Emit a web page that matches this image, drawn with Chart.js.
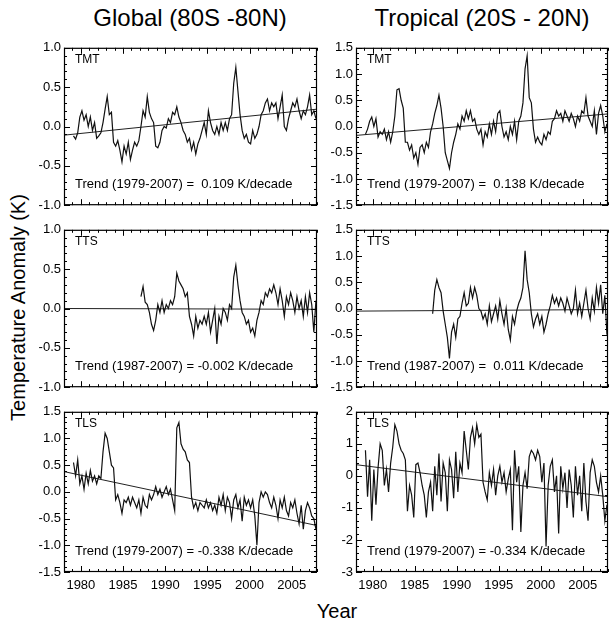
<!DOCTYPE html>
<html>
<head>
<meta charset="utf-8">
<script src="https://cdn.jsdelivr.net/npm/chart.js@4/dist/chart.umd.min.js"></script>
<style>
  body { margin: 0; background: #fff; width: 610px; height: 627px; position: relative; overflow: hidden;
         font-family: "Liberation Sans", Arial, Helvetica, sans-serif; color: #000; }
  canvas { position: absolute; }
  .txt { position: absolute; white-space: nowrap; }
</style>
</head>
<body>
<div class="txt" style="left:40px; width:300px; top:4px; font-size:24px; text-align:center;">Global (80S -80N)</div>
<div class="txt" style="left:332px; width:300px; top:4px; font-size:24px; text-align:center;">Tropical (20S - 20N)</div>
<div class="txt" style="left:-102px; top:296px; width:240px; font-size:20px; text-align:center; transform:rotate(-90deg);">Temperature Anomaly (K)</div>
<div class="txt" style="left:287px; width:100px; top:600px; font-size:20px; text-align:center;">Year</div>

<canvas id="c0"></canvas><canvas id="c1"></canvas>
<canvas id="c2"></canvas><canvas id="c3"></canvas>
<canvas id="c4"></canvas><canvas id="c5"></canvas>

<script>
// quarterly anomalies (K)
const step = 0.25;
const msuStart = 1979;
const ttsStart = 1987;

const globalTMT = [
  -0.12, -0.16, -0.08, 0.12,   0.20, 0.08, 0.15, 0.0,   0.12, -0.05, 0.05, -0.15,
  -0.12, -0.08, 0.05, 0.22,    0.38, 0.15, 0.18, -0.2,  -0.25, -0.18, -0.3, -0.45,
  -0.25, -0.35, -0.2, -0.42,   -0.3, -0.2, -0.25, -0.18, 0.0, 0.2, 0.12, 0.38,
  0.18, 0.1, 0.05, -0.25,      -0.27, -0.2, -0.05, 0.0, -0.02, 0.1, 0.05, 0.18,
  0.15, 0.25, 0.12, 0.05,      -0.05, -0.1, -0.2, -0.15, -0.3, -0.2, -0.35, -0.22,
  -0.15, -0.05, 0.05, -0.1,    0.2, 0.05, -0.05, -0.1,  0.0, -0.1, 0.05, -0.05,
  0.05, -0.05, 0.1, 0.15,      0.55, 0.75, 0.45, 0.15,  -0.05, -0.15, -0.1, -0.2,
  -0.22, -0.05, -0.15, -0.1,   0.0, 0.15, 0.2, 0.3,     0.35, 0.2, 0.3, 0.25,
  0.3, 0.1, 0.25, 0.4,         0.0, -0.05, 0.1, 0.2,    0.3, 0.25, 0.35, 0.2,
  0.1, 0.2, 0.15, 0.25,        0.4, 0.15, 0.2, 0.1
];
const globalTTS = [
  0.15, 0.28, 0.08, 0.05,      -0.05, -0.2, -0.28, -0.15, 0.05, -0.05, 0.1, -0.05,
  0.05, 0.0, 0.1, 0.05,        0.15, 0.45, 0.35, 0.3,   0.25, 0.15, 0.2, -0.1,
  -0.2, -0.35, -0.1, -0.25,    -0.15, -0.2, -0.1, -0.2, -0.05, -0.3, -0.15, 0.0,
  -0.45, -0.1, -0.2, 0.0,      -0.05, -0.15, 0.05, 0.0, 0.4, 0.55, 0.3, 0.1,
  -0.05, -0.1, -0.2, -0.15,    -0.3, -0.25, -0.35, -0.15, -0.05, 0.1, 0.05, 0.2,
  0.15, 0.25, 0.2, 0.3,        0.2, 0.05, 0.25, 0.1,    -0.1, 0.15, 0.05, 0.2,
  0.1, -0.05, 0.15, 0.0,       0.1, -0.1, 0.15, -0.05,  0.2, 0.05, -0.3, 0.1
];
const globalTLS = [
  0.55, 0.3, 0.6, 0.15,        0.3, 0.05, 0.35, 0.15,   0.4, 0.2, 0.3, 0.15,
  0.3, 0.25, 0.75, 1.1,        1.0, 0.75, 0.5, 0.45,    -0.15, -0.05, -0.2, -0.4,
  -0.15, -0.2, -0.1, -0.25,    -0.1, -0.2, -0.3, -0.15, -0.4, -0.1, -0.25, -0.3,
  -0.05, -0.15, -0.05, 0.1,    -0.05, 0.05, -0.1, 0.0,  0.1, -0.05, 0.05, -0.15,
  -0.35, 1.2, 1.3, 0.9,        0.8, 0.75, 0.6, 0.55,    -0.1, -0.3, -0.2, -0.35,
  -0.2, -0.25, -0.3, -0.15,    -0.3, -0.2, -0.35, -0.25, -0.4, -0.1, -0.25, -0.05,
  -0.35, -0.1, -0.2, -0.5,     -0.15, -0.05, -0.3, -0.15, -0.55, -0.1, -0.25, -0.15,
  -0.3, -0.15, -0.45, -1.0,    -0.2, 0.0, -0.1, 0.0,    -0.05, -0.2, -0.3, -0.1,
  -0.25, -0.5, -0.15, -0.3,    -0.1, -0.35, -0.45, -0.2, -0.3, -0.15, -0.4, -0.6,
  -0.25, -0.7, -0.35, -0.2,    -0.3, -0.45, -0.5, -0.7
];
const tropTMT = [
  -0.15, -0.05, 0.1, 0.18,     0.0, 0.15, -0.2, -0.1,   -0.15, -0.05, -0.25, -0.1,
  -0.3, -0.1, 0.2, 0.7,        0.72, 0.5, 0.35, -0.3,   -0.3, -0.45, -0.35, -0.6,
  -0.5, -0.72, -0.4, -0.35,    -0.5, -0.3, -0.4, -0.1,  0.05, 0.25, 0.4, 0.6,
  0.35, 0.0, -0.5, -0.65,      -0.8, -0.5, -0.3, -0.15, 0.05, -0.05, 0.2, 0.1,
  0.3, 0.15, 0.3, 0.1,         0.15, -0.05, -0.15, -0.05, -0.35, -0.1, -0.2, 0.05,
  -0.15, 0.1, -0.1, 0.25,      0.3, 0.0, -0.2, -0.1,    -0.25, 0.0, -0.15, 0.1,
  -0.25, 0.1, 0.2, 0.45,       1.1, 1.35, 0.55, 0.45,   -0.05, -0.3, -0.2, -0.3,
  -0.35, -0.15, -0.25, -0.1,   -0.15, 0.1, 0.15, 0.3,   0.2, 0.25, 0.1, 0.3,
  0.2, 0.1, 0.25, 0.15,        0.0, 0.2, 0.1, 0.3,      0.25, 0.55, 0.2, 0.1,
  0.0, 0.3, -0.15, 0.25,       0.4, 0.2, -0.1, 0.05
];
const tropTTS = [
  -0.1, 0.35, 0.55, 0.4,       0.3, -0.05, -0.3, -0.55, -0.95, -0.45, -0.3, -0.55,
  -0.2, -0.15, 0.1, 0.3,       0.05, 0.1, 0.4, 0.2,     0.4, 0.25, 0.0, -0.05,
  -0.2, -0.1, -0.3, 0.05,      -0.25, -0.1, 0.05, -0.2, 0.15, -0.1, -0.3, 0.0,
  -0.4, -0.6, -0.15, -0.3,     -0.05, 0.1, 0.2, 0.4,    1.1, 0.55, 0.3, -0.1,
  -0.35, -0.2, -0.1, -0.3,     -0.15, -0.45, -0.3, -0.1, 0.05, 0.25, 0.1, 0.2,
  0.05, 0.2, 0.1, -0.05,       0.2, 0.05, -0.1, 0.0,    0.35, -0.1, 0.1, -0.15,
  0.1, 0.35, 0.0, -0.2,        0.2, -0.05, 0.4, 0.1,    0.45, -0.1, 0.25, -0.5
];
const tropTLS = [
  0.8, -0.65, 0.5, -1.4,       0.2, -0.9, 0.25, 1.0,    0.8, -0.3, 0.2, -0.5,
  0.4, 0.9, 1.6, 1.4,          1.0, 0.8, 0.7, 0.5,      -1.1, -0.3, -0.6, -1.3,
  0.35, 0.4, 0.1, -0.3,        -0.6, -1.3, -0.5, -0.2,  -1.1, 0.3, -0.6, 0.7,
  -0.8, 0.4, 0.1, -1.1,        0.5, 0.2, -0.7, 0.75,    -0.5, 0.4, 0.1, 1.4,
  0.8, 0.2, 1.2, 1.5,          1.0, 1.6, 1.2, 1.3,      -0.2, -0.5, -0.75, 0.1,
  -0.3, 0.2, -0.6, 0.0,        0.3, -0.2, 0.1, -0.5,    -0.1, 0.2, -1.7, 0.8,
  -0.2, 0.3, -1.75, -0.3,      0.1, -0.4, 0.6, 0.8,     0.7, 0.5, 0.8, 0.6,
  -0.2, 0.4, -2.2, -0.3,       0.3, 0.5, -0.5, 0.0,     -1.8, 0.3, -0.4, 0.1,
  -1.0, 0.2, -0.3, -1.3,       0.3, -0.6, 0.0, -1.1,    0.4, -0.8, -1.4, 0.1,
  0.5, 0.3, -0.2, -0.5,        0.0, -0.6, -1.4, -0.9
];

// linear trend lines (panel order), value at 1978 and at 2008
const trendAt1978 = [-0.11, -0.17, 0.0, -0.05, 0.38, 0.35];
const trendAt2008 = [0.22, 0.24, -0.01, -0.02, -0.63, -0.65];
const trendLabels = [
  'Trend (1979-2007) =  0.109 K/decade',
  'Trend (1979-2007) =  0.138 K/decade',
  'Trend (1987-2007) = -0.002 K/decade',
  'Trend (1987-2007) =  0.011 K/decade',
  'Trend (1979-2007) = -0.338 K/decade',
  'Trend (1979-2007) = -0.334 K/decade'
];
const channels = ['TMT', 'TMT', 'TTS', 'TTS', 'TLS', 'TLS'];

const xMin = 1978, xMax = 2008;
const xTicks = [1980, 1985, 1990, 1995, 2000, 2005];
const yTicks1 = [-1.0, -0.5, 0.0, 0.5, 1.0];
const yTicks15 = [-1.5, -1.0, -0.5, 0.0, 0.5, 1.0, 1.5];
const yTicks3 = [-3, -2, -1, 0, 1, 2];

const FONT = '"Liberation Sans", Arial, Helvetica, sans-serif';

// panels in reading order: left/right, top to bottom
const panels = [
  { series: globalTMT, start: msuStart, yTicks: yTicks1,  minor: 0.1, dec: 1 },
  { series: tropTMT,   start: msuStart, yTicks: yTicks15, minor: 0.1, dec: 1 },
  { series: globalTTS, start: ttsStart, yTicks: yTicks1,  minor: 0.1, dec: 1 },
  { series: tropTTS,   start: ttsStart, yTicks: yTicks15, minor: 0.1, dec: 1 },
  { series: globalTLS, start: msuStart, yTicks: yTicks15, minor: 0.1, dec: 1 },
  { series: tropTLS,   start: msuStart, yTicks: yTicks3,  minor: 0.2, dec: 0 }
];

const rowTop = [45, 227, 409];
const panelH = 163;
const cols = [
  { left: 14, width: 308, axisW: 50, padR: 5 },
  { left: 310, width: 300, axisW: 46, padR: 2 }
];

// box with inward ticks on all four sides, plus the in-panel text
const frameTicks = {
  id: 'frameTicks',
  afterDatasetsDraw(chart, args, o) {
    const { ctx, chartArea: a, scales: { x, y } } = chart;
    ctx.save();
    ctx.strokeStyle = '#000';
    ctx.lineWidth = 1;
    ctx.beginPath();
    for (let yr = Math.ceil(x.min); yr <= x.max; yr++) {
      const px = Math.round(x.getPixelForValue(yr)) + 0.5;
      const len = yr % 5 === 0 ? 6 : 3;
      ctx.moveTo(px, a.bottom); ctx.lineTo(px, a.bottom - len);
      ctx.moveTo(px, a.top); ctx.lineTo(px, a.top + len);
    }
    const n = Math.round((y.max - y.min) / o.minor);
    for (let i = 0; i <= n; i++) {
      const v = y.min + i * o.minor;
      const major = o.major.some(m => Math.abs(m - v) < 1e-6);
      const len = major ? 6 : 3;
      const py = Math.round(y.getPixelForValue(v)) + 0.5;
      ctx.moveTo(a.left, py); ctx.lineTo(a.left + len, py);
      ctx.moveTo(a.right, py); ctx.lineTo(a.right - len, py);
    }
    ctx.stroke();
    ctx.lineWidth = 1.2;
    ctx.strokeRect(a.left + 0.5, a.top + 0.5, a.width - 1, a.height - 1);

    ctx.fillStyle = '#000';
    ctx.textBaseline = 'middle';
    ctx.textAlign = 'left';
    ctx.font = '12px ' + FONT;
    ctx.fillText(o.channel, a.left + 11, a.top + 12);
    ctx.font = '13px ' + FONT;
    ctx.fillText(o.trend, a.left + 11, a.bottom - 21);
    ctx.restore();
  }
};

panels.forEach((p, i) => {
  const col = cols[i % 2];
  const row = Math.floor(i / 2);
  const last = row === 2;
  const canvas = document.getElementById('c' + i);
  const padT = 8, padB = last ? 4 : 8, xAxisH = last ? 24 : 0;
  const h = padT + panelH + xAxisH + padB;
  canvas.width = col.width;
  canvas.height = h;
  canvas.style.left = col.left + 'px';
  canvas.style.top = (rowTop[row] - padT) + 'px';
  canvas.style.width = col.width + 'px';
  canvas.style.height = h + 'px';

  const pts = p.series.map((v, k) => ({ x: p.start + k * step + step / 2, y: v }));
  const yMin = p.yTicks[0], yMax = p.yTicks[p.yTicks.length - 1];

  new Chart(canvas.getContext('2d'), {
    type: 'line',
    data: {
      datasets: [
        { data: pts, borderColor: '#111', borderWidth: 1.2, pointRadius: 0, tension: 0 },
        { data: [{ x: xMin, y: trendAt1978[i] }, { x: xMax, y: trendAt2008[i] }],
          borderColor: '#222', borderWidth: 1, pointRadius: 0 }
      ]
    },
    options: {
      responsive: false,
      animation: false,
      events: [],
      layout: { padding: { top: padT, bottom: padB, left: 0, right: col.padR } },
      plugins: {
        legend: { display: false },
        tooltip: { enabled: false },
        frameTicks: { major: p.yTicks, minor: p.minor, channel: channels[i], trend: trendLabels[i] }
      },
      scales: {
        x: {
          type: 'linear', min: xMin, max: xMax,
          grid: { display: false, drawTicks: false },
          border: { display: false },
          afterBuildTicks: s => { s.ticks = xTicks.map(v => ({ value: v })); },
          afterFit: s => { s.height = xAxisH; },
          ticks: { display: last, padding: 6, maxRotation: 0, color: '#000',
                   font: { family: FONT, size: 13 }, callback: v => String(v) }
        },
        y: {
          min: yMin, max: yMax,
          grid: { display: false, drawTicks: false },
          border: { display: false },
          afterBuildTicks: s => { s.ticks = p.yTicks.map(v => ({ value: v })); },
          afterFit: s => { s.width = col.axisW; },
          ticks: { padding: 3, color: '#000', font: { family: FONT, size: 13 },
                   callback: v => v.toFixed(p.dec) }
        }
      }
    },
    plugins: [frameTicks]
  });
});
</script>
</body>
</html>
